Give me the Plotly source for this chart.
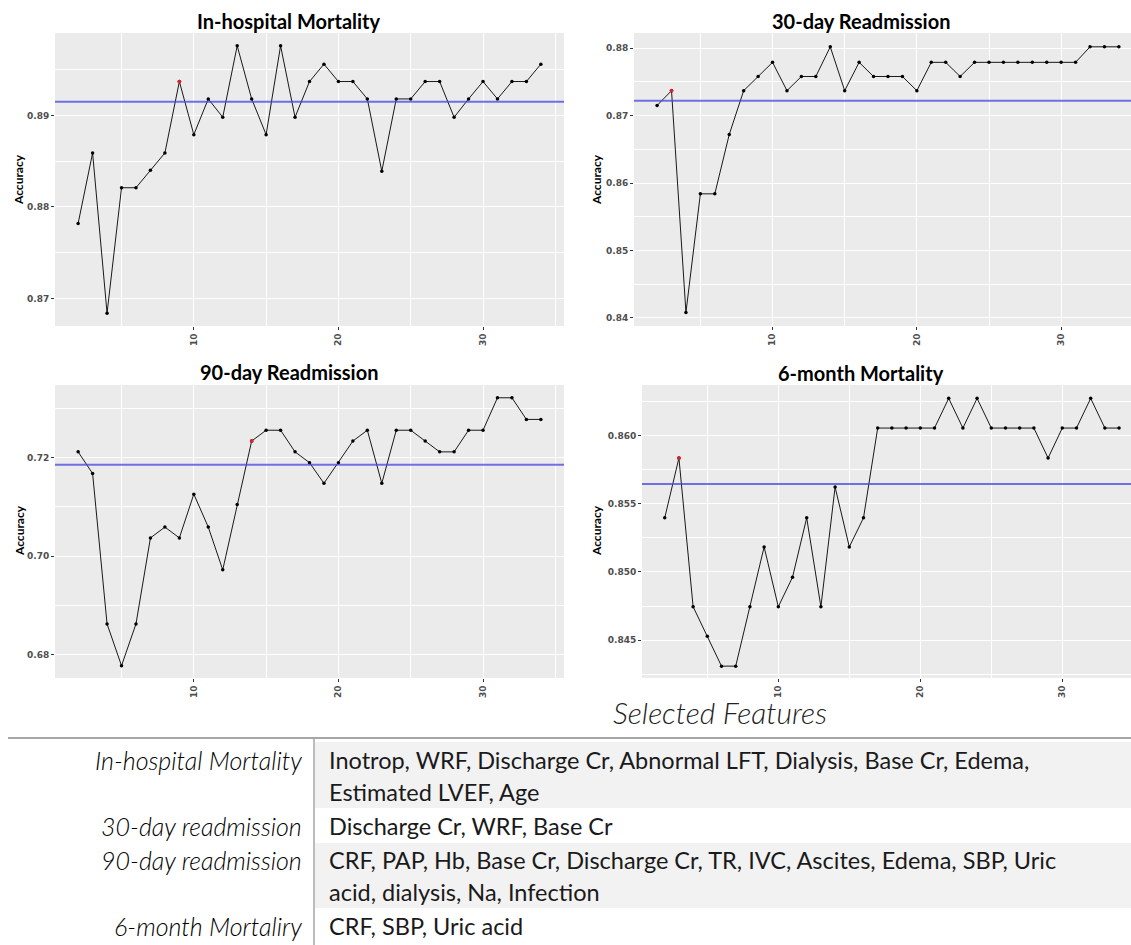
import plotly.graph_objects as go

W, H = 1131, 945

# ---------------- data ----------------
n_features = list(range(2, 35))
panel_titles = ["In-hospital Mortality", "30-day Readmission", "90-day Readmission", "6-month Mortality"]
acc_inhospital = [0.8782, 0.8859, 0.8684, 0.8821, 0.8821, 0.8840, 0.8859, 0.8937, 0.8879, 0.8918,
                  0.8898, 0.8976, 0.8918, 0.8879, 0.8976, 0.8898, 0.8937, 0.8956, 0.8937, 0.8937,
                  0.8918, 0.8839, 0.8918, 0.8918, 0.8937, 0.8937, 0.8898, 0.8918, 0.8937, 0.8918,
                  0.8937, 0.8937, 0.8956]
acc_30day = [0.8715, 0.8737, 0.8408, 0.8584, 0.8584, 0.8672, 0.8737, 0.8758, 0.8779, 0.8737,
             0.8758, 0.8758, 0.8802, 0.8737, 0.8779, 0.8758, 0.8758, 0.8758, 0.8737, 0.8779,
             0.8779, 0.8758, 0.8779, 0.8779, 0.8779, 0.8779, 0.8779, 0.8779, 0.8779, 0.8779,
             0.8802, 0.8802, 0.8802]
acc_90day = [0.7212, 0.7168, 0.6862, 0.6777, 0.6862, 0.7037, 0.7059, 0.7037, 0.7126, 0.7059,
             0.6972, 0.7105, 0.7234, 0.7256, 0.7256, 0.7212, 0.7190, 0.7148, 0.7190, 0.7234,
             0.7256, 0.7148, 0.7256, 0.7256, 0.7234, 0.7212, 0.7212, 0.7256, 0.7256, 0.7322,
             0.7322, 0.7278, 0.7278]
acc_6month = [0.85397, 0.85836, 0.84745, 0.84528, 0.84309, 0.84309, 0.84745, 0.85184, 0.84745, 0.84961,
              0.85397, 0.84745, 0.85623, 0.85184, 0.85397, 0.86056, 0.86056, 0.86056, 0.86056, 0.86056,
              0.86274, 0.86056, 0.86274, 0.86056, 0.86056, 0.86056, 0.86056, 0.85836, 0.86056, 0.86056,
              0.86274, 0.86056, 0.86056]
baseline_acc = [0.8915, 0.8722, 0.7186, 0.85645]
selected_n = [9, 3, 14, 3]

x_ticks = [10, 20, 30]
x_minor = [5, 15, 25, 35]
y_ticks = [[0.87, 0.88, 0.89], [0.84, 0.85, 0.86, 0.87, 0.88], [0.68, 0.70, 0.72],
           [0.845, 0.850, 0.855, 0.860]]
y_minor = [[0.865, 0.875, 0.885, 0.895], [0.845, 0.855, 0.865, 0.875],
           [0.67, 0.69, 0.71, 0.73], [0.8425, 0.8475, 0.8525, 0.8575, 0.8625]]
y_formats = [".2f", ".2f", ".2f", ".3f"]

table_header = "Selected Features"
table_outcomes = ["In-hospital Mortality", "30-day readmission", "90-day readmission", "6-month Mortaliry"]
table_features = [
    ["Inotrop, WRF, Discharge Cr, Abnormal LFT, Dialysis, Base Cr, Edema,", "Estimated LVEF, Age"],
    ["Discharge Cr, WRF, Base Cr"],
    ["CRF, PAP, Hb, Base Cr, Discharge Cr, TR, IVC, Ascites, Edema, SBP, Uric", "acid, dialysis, Na, Infection"],
    ["CRF, SBP, Uric acid"],
]

series = [acc_inhospital, acc_30day, acc_90day, acc_6month]

# ---------------- layout helpers (pixel -> paper) ----------------
def px(x):
    return x / W

def py(y):
    return 1 - y / H

# panel boxes in pixels: left, right, top, bottom
boxes = [(55, 564, 33, 326), (634, 1131, 33, 326), (55, 564, 385, 678), (642, 1131, 385, 678)]
x_ranges = [[0.4, 35.6], [0.4, 34.84], [0.4, 35.6], [0.4, 34.84]]
y_ranges = [[0.8670, 0.8990], [0.8388, 0.88225], [0.6752, 0.7348], [0.84222, 0.86372]]
title_pos = [(289, 21), (861, 21), (289, 372), (861, 373)]
acc_pos = [(18, 180), (596, 180), (19, 531), (596, 531)]

fig = go.Figure()
layout = dict(
    width=W, height=H, margin=dict(l=0, r=0, t=0, b=0),
    paper_bgcolor="white", plot_bgcolor="#EBEBEB", showlegend=False,
    shapes=[], annotations=[],
)

tick_font = dict(family="DejaVu Sans", size=9, color="#4D4D4D", weight="bold")

for i in range(4):
    k = "" if i == 0 else str(i + 1)
    l, r, t, b = boxes[i]
    layout["xaxis" + k] = dict(
        domain=[px(l), px(r)], range=x_ranges[i], anchor="y" + k,
        tickmode="array", tickvals=x_ticks, tickangle=-90, tickfont=tick_font,
        ticks="outside", ticklen=3, tickcolor="#333333", tickwidth=1,
        showgrid=True, gridcolor="white", gridwidth=1.2, zeroline=False, showline=False,
        minor=dict(tickmode="array", tickvals=x_minor, showgrid=True, gridcolor="white", gridwidth=0.6, ticks=""),
        fixedrange=True,
    )
    layout["yaxis" + k] = dict(
        domain=[py(b), py(t)], range=y_ranges[i], anchor="x" + k,
        tickmode="array", tickvals=y_ticks[i], tickformat=y_formats[i], tickfont=tick_font,
        ticks="outside", ticklen=3, tickcolor="#333333", tickwidth=1,
        showgrid=True, gridcolor="white", gridwidth=1.2, zeroline=False, showline=False,
        minor=dict(tickmode="array", tickvals=y_minor[i], showgrid=True, gridcolor="white", gridwidth=0.6, ticks=""),
        fixedrange=True,
    )
    xa, ya = "x" + k, "y" + k
    fig.add_trace(go.Scatter(
        x=n_features, y=series[i], xaxis=xa, yaxis=ya, mode="lines+markers",
        line=dict(color="black", width=0.9), marker=dict(color="black", size=3.5),
        hoverinfo="skip",
    ))
    sel = n_features.index(selected_n[i])
    fig.add_trace(go.Scatter(
        x=[n_features[sel]], y=[series[i][sel]], xaxis=xa, yaxis=ya, mode="markers",
        marker=dict(color="#E0202A", size=3.8), hoverinfo="skip",
    ))
    layout["shapes"].append(dict(
        type="line", xref=xa + " domain", yref=ya, x0=0, x1=1,
        y0=baseline_acc[i], y1=baseline_acc[i],
        line=dict(color="rgba(70,70,225,0.75)", width=2),
    ))
    tx, ty = title_pos[i]
    layout["annotations"].append(dict(
        xref="paper", yref="paper", x=px(tx), y=py(ty), text="<b>" + panel_titles[i] + "</b>",
        showarrow=False, xanchor="center", yanchor="middle",
        font=dict(family="Lato", size=20, color="black"),
    ))
    ax, ay = acc_pos[i]
    layout["annotations"].append(dict(
        xref="paper", yref="paper", x=px(ax), y=py(ay), text="<b>Accuracy</b>", textangle=-90,
        showarrow=False, xanchor="center", yanchor="middle",
        font=dict(family="Lato", size=12, color="black"),
    ))

# ---------------- table ----------------
row_bands = [(742, 808), (808, 843), (843, 908), (908, 945)]
row_line_y = [[760, 792], [826], [860, 892], [926]]
for ri, (y0, y1) in enumerate(row_bands):
    if ri % 2 == 0:
        layout["shapes"].append(dict(
            type="rect", xref="paper", yref="paper", x0=px(315), x1=1, y0=py(y1), y1=py(y0),
            fillcolor="#F2F2F2", line=dict(width=0), layer="below",
        ))
layout["shapes"].append(dict(type="line", xref="paper", yref="paper", x0=px(8), x1=1,
                             y0=py(738), y1=py(738), line=dict(color="#A6A6A6", width=2)))
layout["shapes"].append(dict(type="line", xref="paper", yref="paper", x0=px(314), x1=px(314),
                             y0=py(738), y1=0, line=dict(color="#A6A6A6", width=1.5)))

layout["annotations"].append(dict(
    xref="paper", yref="paper", x=px(720), y=py(712), text=table_header, showarrow=False,
    xanchor="center", yanchor="middle",
    font=dict(family="Lato", size=30, color="#222222", style="italic", weight=300),
))
for ri in range(4):
    layout["annotations"].append(dict(
        xref="paper", yref="paper", x=px(304), y=py(row_line_y[ri][0]), text=table_outcomes[ri],
        showarrow=False, xanchor="right", yanchor="middle",
        font=dict(family="Lato", size=25, color="#000000", style="italic", weight=300),
    ))
    for li, line_text in enumerate(table_features[ri]):
        layout["annotations"].append(dict(
            xref="paper", yref="paper", x=px(327), y=py(row_line_y[ri][li]), text=line_text,
            showarrow=False, xanchor="left", yanchor="middle",
            font=dict(family="Lato", size=23.5, color="#1A1A1A"),
        ))

fig.update_layout(**layout)
fig.write_html("out.html", config={"displayModeBar": False},
               post_script="document.body.style.margin='0px';document.body.style.overflow='hidden';")
